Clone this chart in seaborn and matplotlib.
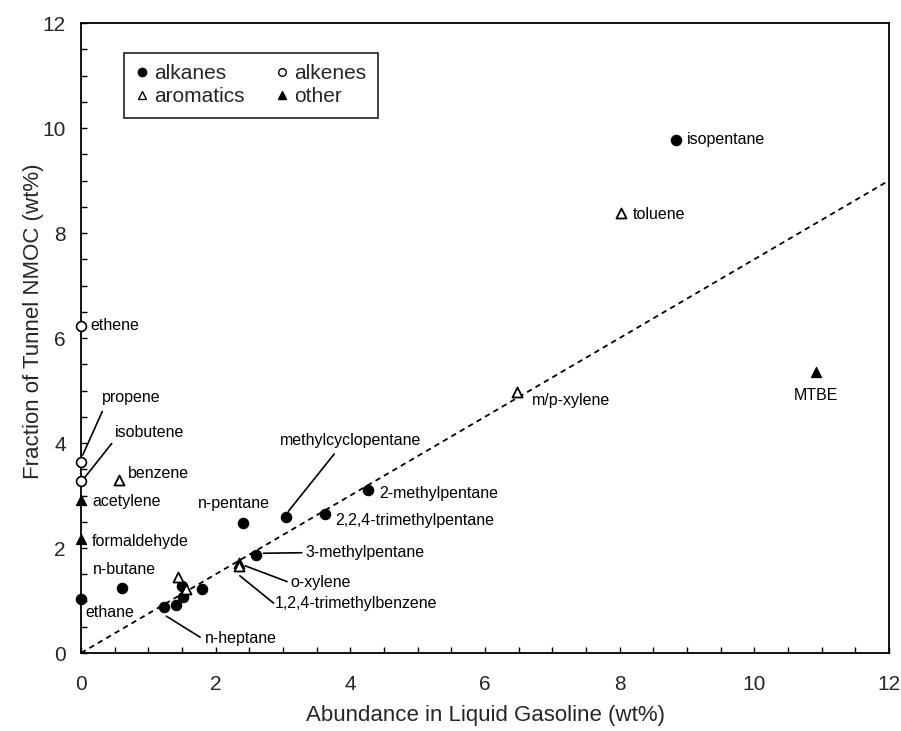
import numpy as np
import pandas as pd
import matplotlib
matplotlib.use("Agg")
import matplotlib.pyplot as plt
from matplotlib.lines import Line2D
from matplotlib.ticker import MultipleLocator
import seaborn as sns

# Data (x = wt% in liquid gasoline, y = wt% of tunnel NMOC)
alkane_names = ['ethane', 'n-butane', 'n-pentane', 'methylcyclopentane', '2,2,4-trimethylpentane',
                '2-methylpentane', '3-methylpentane', 'isopentane', 'n-heptane', '', '', '', '']
alkane_x = [0.0, 0.61, 2.41, 3.04, 3.63, 4.26, 2.60, 8.84, 1.24, 1.41, 1.50, 1.52, 1.79]
alkane_y = [1.03, 1.24, 2.48, 2.59, 2.64, 3.11, 1.86, 9.78, 0.87, 0.91, 1.27, 1.07, 1.21]

alkene_names = ['ethene', 'propene', 'isobutene']
alkene_x = [0.0, 0.0, 0.0]
alkene_y = [6.23, 3.64, 3.28]

aromatic_names = ['benzene', 'toluene', 'm/p-xylene', 'o-xylene', '1,2,4-trimethylbenzene', '', '']
aromatic_x = [0.57, 8.02, 6.47, 2.35, 2.34, 1.44, 1.56]
aromatic_y = [3.30, 8.38, 4.98, 1.71, 1.66, 1.44, 1.21]

other_names = ['acetylene', 'formaldehyde', 'MTBE']
other_x = [0.0, 0.0, 10.92]
other_y = [2.91, 2.17, 5.36]

# dashed reference line
fit_x = [0, 12]
fit_y = [0, 9.0]

df = pd.concat([
    pd.DataFrame({'name': alkane_names, 'x': alkane_x, 'y': alkane_y, 'group': 'alkanes'}),
    pd.DataFrame({'name': alkene_names, 'x': alkene_x, 'y': alkene_y, 'group': 'alkenes'}),
    pd.DataFrame({'name': aromatic_names, 'x': aromatic_x, 'y': aromatic_y, 'group': 'aromatics'}),
    pd.DataFrame({'name': other_names, 'x': other_x, 'y': other_y, 'group': 'other'}),
], ignore_index=True)

# label placement (text anchor in data coords, alignment)
label_pos = {
    'isopentane': (9.00, 9.78, 'left'),
    'toluene': (8.20, 8.36, 'left'),
    'm/p-xylene': (6.70, 4.81, 'left'),
    'MTBE': (10.92, 4.90, 'center'),
    'ethene': (0.14, 6.23, 'left'),
    'propene': (0.31, 4.86, 'left'),
    'isobutene': (0.50, 4.20, 'left'),
    'benzene': (0.70, 3.42, 'left'),
    'acetylene': (0.17, 2.88, 'left'),
    'formaldehyde': (0.16, 2.13, 'left'),
    'n-butane': (0.65, 1.59, 'center'),
    'ethane': (0.06, 0.78, 'left'),
    'n-pentane': (2.27, 2.85, 'center'),
    'methylcyclopentane': (4.01, 4.04, 'center'),
    '2-methylpentane': (4.43, 3.04, 'left'),
    '2,2,4-trimethylpentane': (3.77, 2.53, 'left'),
    '3-methylpentane': (3.33, 1.91, 'left'),
    'o-xylene': (3.11, 1.34, 'left'),
    '1,2,4-trimethylbenzene': (2.88, 0.95, 'left'),
    'n-heptane': (1.84, 0.28, 'left'),
}

# leader lines: (x0, y0, x1, y1)
leaders = [
    (0.025, 3.77, 0.316, 4.60),
    (0.06, 3.35, 0.456, 3.99),
    (3.08, 2.70, 3.76, 3.79),
    (2.71, 1.90, 3.28, 1.91),
    (2.44, 1.66, 3.06, 1.36),
    (2.36, 1.47, 2.86, 0.95),
    (1.27, 0.70, 1.77, 0.30),
]

sns.set_theme(style='ticks')
plt.rcParams['font.family'] = ['Liberation Sans', 'DejaVu Sans']

fig = plt.figure(figsize=(9.01, 7.31), dpi=100)
ax = fig.add_axes([0.0899, 0.1067, 0.8968, 0.8618])

# dashed line
sns.lineplot(x=fit_x, y=fit_y, ax=ax, color='black', linewidth=1.3,
             linestyle=(0, (3, 2.4)), zorder=2)

# leader lines
for x0, y0, x1, y1 in leaders:
    ax.plot([x0, x1], [y0, y1], color='black', linewidth=1.2, zorder=2)

styles = {
    'alkanes': dict(marker='o', color='black', edgecolor='black', s=56, linewidth=0.8),
    'alkenes': dict(marker='o', color='white', edgecolor='black', s=50, linewidth=1.2),
    'aromatics': dict(marker='^', color='white', edgecolor='black', s=52, linewidth=1.3),
    'other': dict(marker='^', color='black', edgecolor='black', s=54, linewidth=0.8),
}
for g, st in styles.items():
    sub = df[df['group'] == g]
    sns.scatterplot(data=sub, x='x', y='y', ax=ax, legend=False, clip_on=False, zorder=3, **st)

for name, (tx, ty, ha) in label_pos.items():
    ax.text(tx, ty, name, ha=ha, va='center', fontsize=11.5, color='black')

ax.set_xlim(0, 12)
ax.set_ylim(0, 12)
ax.xaxis.set_major_locator(MultipleLocator(2))
ax.yaxis.set_major_locator(MultipleLocator(2))
ax.xaxis.set_minor_locator(MultipleLocator(0.5))
ax.yaxis.set_minor_locator(MultipleLocator(0.5))
ax.tick_params(which='both', direction='in', length=4.5, width=1, color='black')
ax.tick_params(axis='x', pad=16, labelsize=15)
ax.tick_params(axis='y', pad=11, labelsize=15)
for sp in ax.spines.values():
    sp.set_visible(True)
    sp.set_color('black')
    sp.set_linewidth(1.3)

ax.set_xlabel('Abundance in Liquid Gasoline (wt%)', fontsize=16)
ax.set_ylabel('Fraction of Tunnel NMOC (wt%)', fontsize=16)
ax.xaxis.set_label_coords(0.5, -0.083)
ax.yaxis.set_label_coords(-0.046, 0.527)

handles = [
    Line2D([], [], marker='o', linestyle='', markerfacecolor='black', markeredgecolor='black', markersize=6),
    Line2D([], [], marker='^', linestyle='', markerfacecolor='white', markeredgecolor='black', markersize=6),
    Line2D([], [], marker='o', linestyle='', markerfacecolor='white', markeredgecolor='black', markersize=5.5),
    Line2D([], [], marker='^', linestyle='', markerfacecolor='black', markeredgecolor='black', markersize=6),
]
labels = ['alkanes', 'aromatics', 'alkenes', 'other']
leg = ax.legend(handles, labels, ncol=2, loc='upper left', bbox_to_anchor=(0.053, 0.953),
                borderaxespad=0, fontsize=15, frameon=True, fancybox=False,
                handlelength=0.6, handletextpad=0.3, columnspacing=1.5, labelspacing=0.2,
                borderpad=0.55)
leg.get_frame().set_edgecolor('black')
leg.get_frame().set_linewidth(1.3)

fig.savefig('out.png', dpi=100)
